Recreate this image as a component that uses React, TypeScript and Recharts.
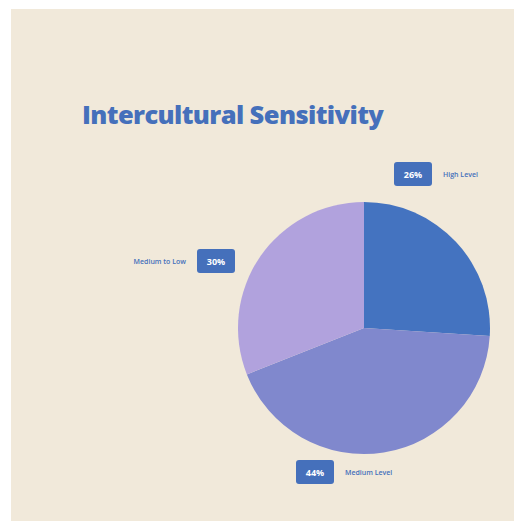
import { PieChart, Pie, Cell } from "recharts";

const names = ["High Level", "Medium Level", "Medium to Low"];
const values = [26, 43, 31];
const labels = ["26%", "44%", "30%"];
const colors = ["#4473c0", "#8088cd", "#b1a2dd"];
// label box centre / name anchor offsets from the pie centre
const boxOffset = [
  [49, -154],
  [-49, 144],
  [-148, -67],
];

const data = names.map((name, i) => ({ name, value: values[i] }));

const BLUE = "#4570bb";

function renderLabel(props: any) {
  const { cx, cy, index } = props;
  const [dx, dy] = boxOffset[index];
  const bx = cx + dx;
  const by = cy + dy;
  const nameRight = index === 2;
  return (
    <g key={`lbl-${index}`}>
      <rect x={bx - 19} y={by - 12} width={38} height={24} rx={3} fill={BLUE} />
      <text
        x={bx}
        y={by}
        fill="#ffffff"
        fontSize={9}
        fontWeight={700}
        textAnchor="middle"
        dominantBaseline="central"
        fontFamily="Open Sans, sans-serif"
      >
        {labels[index]}
      </text>
      <text
        x={nameRight ? bx - 30 : bx + 30}
        y={by}
        fill={BLUE}
        fontSize={7}
        fontWeight={600}
        textAnchor={nameRight ? "end" : "start"}
        dominantBaseline="central"
        fontFamily="Open Sans, sans-serif"
      >
        {names[index]}
      </text>
    </g>
  );
}

export default function App() {
  return (
    <div
      style={{
        position: "absolute",
        left: 0,
        top: 0,
        width: 515,
        height: 521,
        background: "#ffffff",
      }}
    >
      <div
        style={{
          position: "absolute",
          left: 11,
          top: 9,
          width: 503,
          height: 512,
          background: "#f1e9da",
        }}
      />
      <div
        style={{
          position: "absolute",
          left: 82,
          top: 97,
          fontFamily: "Open Sans, sans-serif",
          fontWeight: 800,
          fontSize: 25.5,
          letterSpacing: -0.6,
          color: BLUE,
          whiteSpace: "nowrap",
        }}
      >
        Intercultural Sensitivity
      </div>
      <div style={{ position: "absolute", left: 0, top: 0 }}>
        <PieChart
          width={515}
          height={521}
          margin={{ top: 0, right: 0, bottom: 0, left: 0 }}
        >
          <Pie
            data={data}
            dataKey="value"
            nameKey="name"
            cx={364}
            cy={328}
            outerRadius={126}
            startAngle={90}
            endAngle={-270}
            stroke="none"
            labelLine={false}
            label={renderLabel}
            isAnimationActive={false}
          >
            {data.map((d, i) => (
              <Cell key={d.name} fill={colors[i]} />
            ))}
          </Pie>
        </PieChart>
      </div>
    </div>
  );
}
